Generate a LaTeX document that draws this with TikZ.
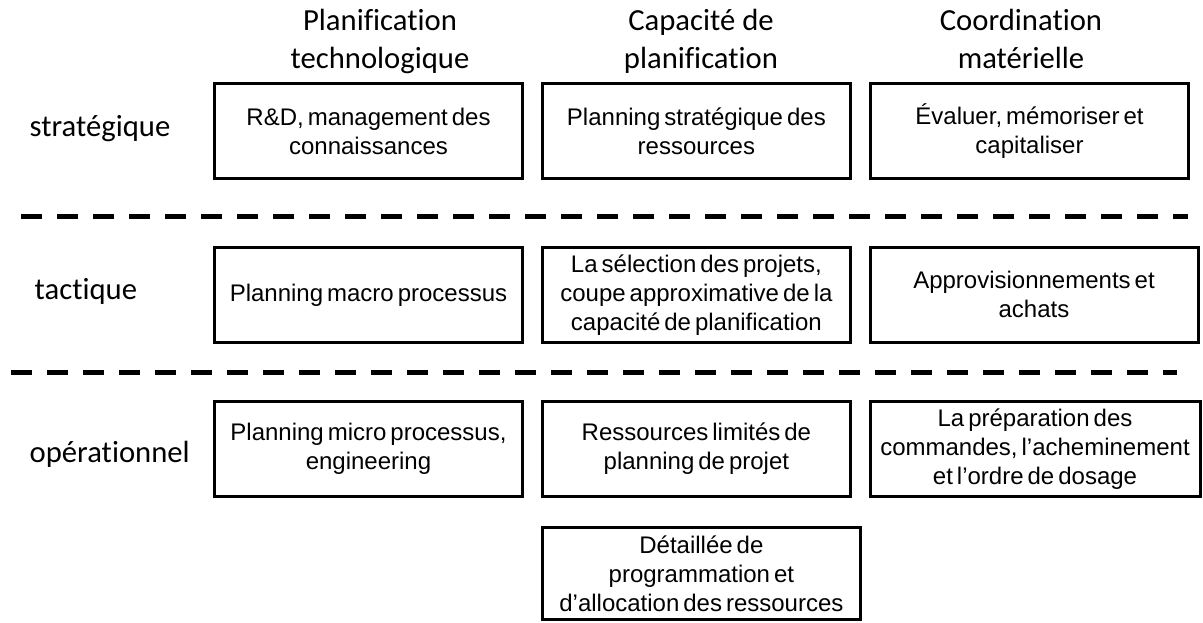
\documentclass[tikz,border=0pt]{standalone}
\usepackage{fontspec}
\setmainfont{Carlito}[Ligatures=NoCommon]
\newfontfamily\boxfont{Liberation Sans}[WordSpace=0.6]
\usepackage{tikz}
\usetikzlibrary{positioning}

\begin{document}
\begin{tikzpicture}[x=0.75pt,y=0.75pt,yscale=-1,xscale=1,
  cell/.style={draw, line width=2.25pt, align=center, inner sep=0pt, minimum height=71pt,
    font=\boxfont\fontsize{18}{21.75}\selectfont},
  head/.style={align=center, anchor=base, font=\fontsize{23}{28.2}\selectfont},
  level/.style={anchor=base west, font=\fontsize{23}{28.2}\selectfont},
  sep/.style={line width=4pt, dash pattern=on 15.75pt off 11.25pt}]
%uncomment if require: \path (0,623); %set diagram left start at 0, and has height of 623
\useasboundingbox (0,0) rectangle (1203,623);

% Text Node: column heads (anchored on the last line)
\node [head] (hplan) at (380,68.3) {Planification\\technologique};
\node [head] (hcap) at (701,68.3) {Capacité de\\planification};
\node [head] (hcoord) at (1021,68.3) {Coordination\\matérielle};

% Text Node: levels
\node [level] (lstrat) at (25,136.7) {stratégique};
\node [level] (ltact) at (30,300) {tactique};
\node [level] (lop) at (25,462) {opérationnel};

%Shape: Rectangle row strategique
\node [cell, minimum width=231pt] (s1) at (368.5,131.1) {R\&D, management des\\connaissances};
\node [cell, minimum width=230.5pt] (s2) at (696.4,131.1) {Planning stratégique des\\ressources};
\node [cell, minimum width=239pt] (s3) at (1029.5,131.1) {Évaluer, mémoriser et\\capitaliser};

%Shape: Rectangle row tactique
\node [cell, minimum width=231pt] (t1) at (368.5,294.9) {Planning macro processus};
\node [cell, minimum width=230.5pt] (t2) at (696.4,294.9) {La sélection des projets,\\coupe approximative de la\\capacité de planification};
\node [cell, minimum width=246pt] (t3) at (1034,294.9) {Approvisionnements et\\achats};

%Shape: Rectangle row operationnel
\node [cell, minimum width=231pt] (o1) at (368.5,449.1) {Planning micro processus,\\engineering};
\node [cell, minimum width=230.5pt] (o2) at (696.4,449.1) {Ressources limités de\\planning de projet};
\node [cell, minimum width=247.5pt] (o3) at (1035,449.1) {La préparation des\\commandes, l’acheminement\\et l’ordre de dosage};
\node [cell, minimum width=238pt, minimum height=69pt] (o4) at (701.4,573.9) {Détaillée de\\programmation et\\d’allocation des ressources};

%Straight Lines: level separators
\coordinate (d1l) at (21,216.7);
\coordinate (d1r) at (1188,216.7);
\coordinate (d2l) at (11,372.2);
\coordinate (d2r) at (1177,372.2);
\draw [sep] (d1l) -- (d1r);
\draw [sep] (d2l) -- (d2r);

\end{tikzpicture}
\end{document}
